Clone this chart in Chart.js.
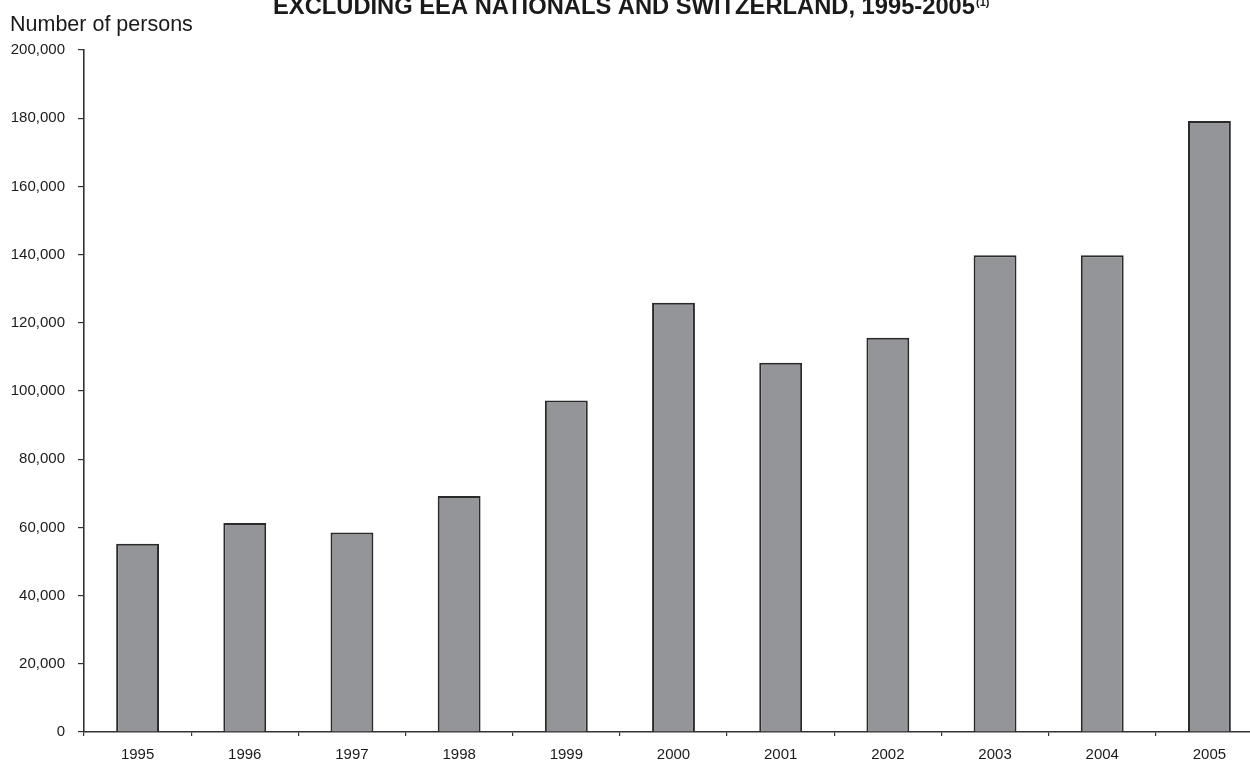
<!DOCTYPE html>
<html>
<head>
<meta charset="utf-8">
<script src="https://cdn.jsdelivr.net/npm/chart.js@4.4.1/dist/chart.umd.min.js"></script>
<style>
  html, body { margin: 0; padding: 0; background: #ffffff; overflow: hidden; }
  #wrap { width: 1250px; height: 760px; overflow: hidden; position: relative; }
  #box { width: 1265px; height: 760px; position: absolute; left: 0; top: 0; }
</style>
</head>
<body>
<div id="wrap"><div id="box"><canvas id="c"></canvas></div></div>
<script>
// Years shown on the category axis
const years = ['1995', '1996', '1997', '1998', '1999', '2000', '2001', '2002', '2003', '2004', '2005'];
// Number of persons per year
const persons = [55200, 61300, 58500, 69200, 97200, 125900, 108300, 115600, 139800, 139800, 179200];
// Value axis range and step
const yMin = 0;
const yMax = 200000;
const yStep = 20000;

const titleText = 'EXCLUDING EEA NATIONALS AND SWITZERLAND, 1995-2005';
const titleNote = '(1)';
const unitText = 'Number of persons';

const FONT = '"Liberation Sans", Arial, Helvetica, sans-serif';
const INK = '#1a1a1a';

const headings = {
  id: 'headings',
  afterDraw(chart) {
    const ctx = chart.ctx;
    ctx.save();
    ctx.fillStyle = INK;
    ctx.textBaseline = 'alphabetic';
    ctx.textAlign = 'left';
    // Bold heading, sized to span its line
    let size = 24;
    ctx.font = 'bold ' + size + 'px ' + FONT;
    const w = ctx.measureText(titleText).width;
    size = size * 702 / w;
    ctx.font = 'bold ' + size.toFixed(2) + 'px ' + FONT;
    ctx.fillText(titleText, 273, 14);
    const tw = ctx.measureText(titleText).width;
    ctx.font = 'bold 11px ' + FONT;
    ctx.fillText(titleNote, 273 + tw + 1, 6);
    // Unit label above the value axis
    ctx.font = '21.5px ' + FONT;
    ctx.fillText(unitText, 10, 31);
    ctx.restore();
  }
};

new Chart(document.getElementById('c'), {
  type: 'bar',
  data: {
    labels: years,
    datasets: [{
      data: persons,
      backgroundColor: '#949599',
      borderColor: '#2a2a2a',
      borderWidth: 2,
      borderSkipped: 'bottom',
      barPercentage: 0.4,
      categoryPercentage: 1.0
    }]
  },
  options: {
    responsive: true,
    maintainAspectRatio: false,
    animation: false,
    devicePixelRatio: 1,
    layout: { padding: { top: 50, right: 2, left: 0, bottom: 0 } },
    plugins: {
      legend: { display: false },
      title: { display: false },
      tooltip: { enabled: false }
    },
    scales: {
      x: {
        offset: true,
        grid: {
          display: true,
          drawOnChartArea: false,
          drawTicks: true,
          tickLength: 4,
          color: '#333333',
          lineWidth: 1.2,
          offset: true
        },
        border: { display: true, color: '#333333', width: 1.6 },
        ticks: {
          color: INK,
          font: { family: FONT, size: 15 },
          padding: 10,
          maxRotation: 0,
          autoSkip: false
        },
        afterFit(scale) { scale.height = 28; }
      },
      y: {
        min: yMin,
        max: yMax,
        grid: {
          display: true,
          drawOnChartArea: false,
          drawTicks: true,
          tickLength: 6,
          color: '#333333',
          lineWidth: 1.2
        },
        border: { display: true, color: '#333333', width: 1.6 },
        ticks: {
          stepSize: yStep,
          color: INK,
          font: { family: FONT, size: 15 },
          padding: 13,
          callback: (v) => v.toLocaleString('en-US')
        },
        afterFit(scale) { scale.width = 84; }
      }
    }
  },
  plugins: [headings]
});
</script>
</body>
</html>
